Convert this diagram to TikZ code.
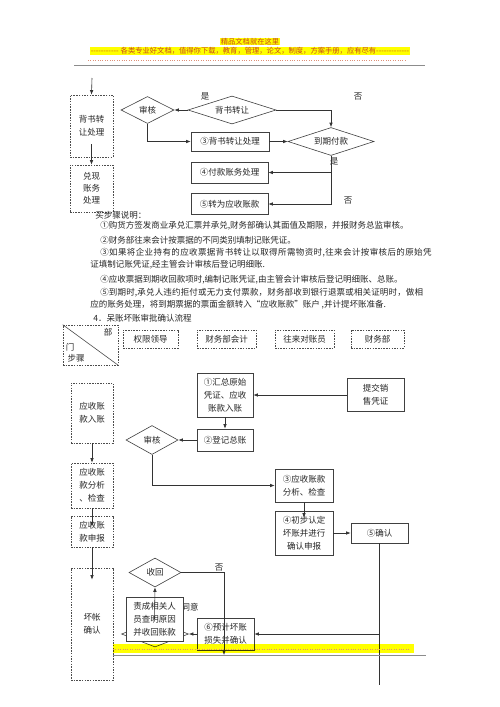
\documentclass[tikz,border=0pt]{standalone}
\usepackage{fontspec}
\setmainfont{Noto Sans CJK SC}
\usepackage{tikz}
\usetikzlibrary{shapes.geometric,arrows.meta}
\definecolor{hdred}{HTML}{C8461E}
\definecolor{hlyellow}{HTML}{FFFF00}
\newcommand{\dashfill}[1]{\hbox to #1{\leaders\hbox{-}\hfill}}

\begin{document}
\begin{tikzpicture}[x=1pt,y=-1pt,line width=0.6pt,>={Latex[length=4.5pt,width=3.5pt]},
    every node/.style={font=\fontsize{8.5}{13}\selectfont,text=black!85},
    dbox/.style={draw=black!70,dash pattern=on 1.5pt off 1.2pt,align=center,inner sep=0pt},
    sbox/.style={draw=black!75,align=center,inner sep=0pt,fill=white},
    dmd/.style={draw=black!75,diamond,aspect=2,inner sep=0pt,fill=white},
    arr/.style={->,draw=black!80},
    ln/.style={draw=black!80},
    txt/.style={anchor=west,inner sep=0pt},
    hl/.style={fill=hlyellow,text=hdred,inner sep=0.6pt,font=\fontsize{7.3}{8}\selectfont}]
    \useasboundingbox (0,0) rectangle (500,707);

    \node(hd1)[hl] at (250,41.5) {精品文档就在这里};
    \node(hd2)[hl] at (250,51) {\dashfill{30pt}各类专业好文档，值得你下载，教育，管理，论文，制度，方案手册，应有尽有\dashfill{33pt}};
    \draw[hdred!60,dotted,line width=0.4pt] (88,60) -- (405,60);
    \draw[black!45,line width=1.2pt] (74,65.5) -- (425,65.5);

    \coordinate(top) at (92,78);
    \node(bz)[dbox,minimum width=43pt,minimum height=62pt] at (91.5,126) {背书转\\让处理};
    \node(dx)[dbox,minimum width=43pt,minimum height=47pt,font=\fontsize{8.5}{12}\selectfont] at (91.5,188.5) {兑现\\账务\\处理};
    \node(sh)[dmd,minimum width=53pt,minimum height=27pt] at (147.5,110) {审核};
    \node(bs)[dmd,minimum width=88pt,minimum height=28pt] at (232,110) {背书转让};
    \node(dq)[dmd,minimum width=86pt,minimum height=28pt] at (331,141.5) {到期付款};
    \node(p3)[sbox,minimum width=78pt,minimum height=19pt] at (230,141.5) {③背书转让处理};
    \node(p4)[sbox,minimum width=77pt,minimum height=21pt] at (229.5,172.5) {④付款账务处理};
    \node(p5)[sbox,minimum width=77pt,minimum height=21pt] at (229.5,204) {⑤转为应收账款};
    \node(y1) at (205,96) {是};
    \node(n1) at (358,97) {否};
    \node(y2) at (334,161) {是};
    \node(n2) at (348,201) {否};

    \draw[arr] (top) -- (bz.north);
    \draw[arr] ([yshift=13pt]bz.south) -- (dx.north);
    \draw[arr] (bs.west) -- (sh.east);
    \draw[arr] (bs.east) -| (dq.north);
    \draw[arr] (sh.south) |- (p3.west);
    \draw[arr] (p3.east) -- (dq.west);
    \draw[arr] (dq.south) |- (p4.east);
    \draw[arr] (dq.south) |- (p5.east);

    \node(sm)[txt] at (95,215) {买步骤说明：};
    \node(s1)[txt] at (100,226) {①购货方签发商业承兑汇票并承兑,财务部确认其面值及期限，并报财务总监审核。};
    \node(s2)[txt] at (100,240.5) {②财务部往来会计按票据的不同类别填制记账凭证。};
    \node(s3)[txt] at (100,253) {\addfontfeature{LetterSpace=4.6}③如果将企业持有的应收票据背书转让以取得所需物资时,往来会计按审核后的原始凭};
    \node(s4)[txt] at (90,265) {证填制记账凭证,经主管会计审核后登记明细账.};
    \node(s5)[txt] at (100,280) {④应收票据到期收回款项时,编制记账凭证,由主管会计审核后登记明细账、总账。};
    \node(s6)[txt] at (100,292.5) {\addfontfeature{LetterSpace=1.9}⑤到期时,承兑人违约拒付或无力支付票款，财务部收到银行退票或相关证明时，做相};
    \node(s7)[txt] at (90,305) {应的账务处理，将到期票据的票面金额转入“应收账款”账户 ,并计提坏账准备.};
    \node(tt)[txt] at (93,318.5) {4．呆账坏账审批确认流程};

    \node(bm)[dbox,minimum width=55pt,minimum height=40pt] at (90.5,345) {};
    \draw[black!70] (bm.north west) -- (bm.south east);
    \node(bu) at (108,332) {部};
    \node(me) at (70,347) {门};
    \node(bj) at (76,358) {步骤};
    \node(c1)[dbox,minimum width=55pt,minimum height=18pt] at (150.5,339) {权限领导};
    \node(c2)[dbox,minimum width=59pt,minimum height=18pt] at (226.5,339) {财务部会计};
    \node(c3)[dbox,minimum width=59pt,minimum height=18pt] at (304.5,339) {往来对账员};
    \node(c4)[dbox,minimum width=53pt,minimum height=18pt] at (377.5,339) {财务部};

    \node(k1)[dbox,minimum width=42pt,minimum height=60pt] at (92,413) {应收账\\款入账};
    \node(k2)[dbox,minimum width=42pt,minimum height=45pt] at (92,485.5) {应收账\\款分析\\、检查};
    \node(k3)[dbox,minimum width=42pt,minimum height=31pt] at (92,531.5) {应收账\\款申报};
    \node(k4)[dbox,minimum width=42pt,minimum height=112pt] at (92,624) {坏帐\\确认};

    \node(p1)[sbox,minimum width=56pt,minimum height=44pt] at (225,395) {①汇总原始\\凭证、应收\\账款入账};
    \node(tj)[sbox,minimum width=57pt,minimum height=33pt] at (375.5,395) {提交销\\售凭证};
    \node(p2)[sbox,minimum width=56pt,minimum height=22pt] at (225,440) {②登记总账};
    \node(sh2)[dmd,minimum width=52pt,minimum height=29pt] at (152,440) {审核};
    \node(q3)[sbox,minimum width=58pt,minimum height=33pt] at (304,485.5) {③应收账款\\分析、检查};
    \node(q4)[sbox,minimum width=58pt,minimum height=44pt] at (304,533) {④初步认定\\坏账并进行\\确认申报};
    \node(q5)[sbox,minimum width=57pt,minimum height=20pt] at (379.5,533) {⑤确认};
    \node(q6)[sbox,minimum width=57pt,minimum height=32pt] at (225.5,634) {⑥预计坏账\\损失并确认};
    \node(ty) at (190,607) {同意};
    \node(hd)[dmd,minimum width=67pt,minimum height=26pt] at (155,634) {};
    \node(zc)[sbox,minimum width=57pt,minimum height=44pt] at (154.5,619) {责成相关人\\员查明原因\\并收回账款};
    \node(sh3)[dmd,minimum width=52pt,minimum height=29pt] at (155,572.5) {收回};
    \node(n3) at (219,568) {否};
    \coordinate(bt) at (379.5,685);
    \coordinate(nb) at (224,655);

    \draw[arr] (k1.south) -- (k2.north);
    \draw[arr] (k2.south) -- ([yshift=-11pt]k3.north);
    \draw[arr] (k3.south) -- ([yshift=-12pt]k4.north);
    \draw[arr] (tj.west) -- (p1.east);
    \draw[arr] (p1.south) -- (p2.north);
    \draw[arr] (p2.west) -- (sh2.east);
    \draw[arr] (sh2.south) |- (q3.west);
    \draw[arr] (q3.south) -- ([yshift=-7pt]q4.north);
    \draw[arr] (q4.east) -- (q5.west);
    \draw[ln] (q5.south) -- (bt);
    \draw[arr] (q5.south |- q6.east) -- (q6.east);
    \draw[arr] (q6.west) -- (hd.east);
    \draw[arr] (zc.center) -- (sh3.south);
    \draw[arr] (sh3.east) -| (nb);

    \fill[hlyellow,blend mode=multiply] (113,644) rectangle (414,653);
    \draw[hdred!60,dotted,line width=0.4pt] (113,649) -- (410,649);
    \draw[black!45,line width=1pt] (113,655.5) -- (426,655.5);
\end{tikzpicture}
\end{document}
